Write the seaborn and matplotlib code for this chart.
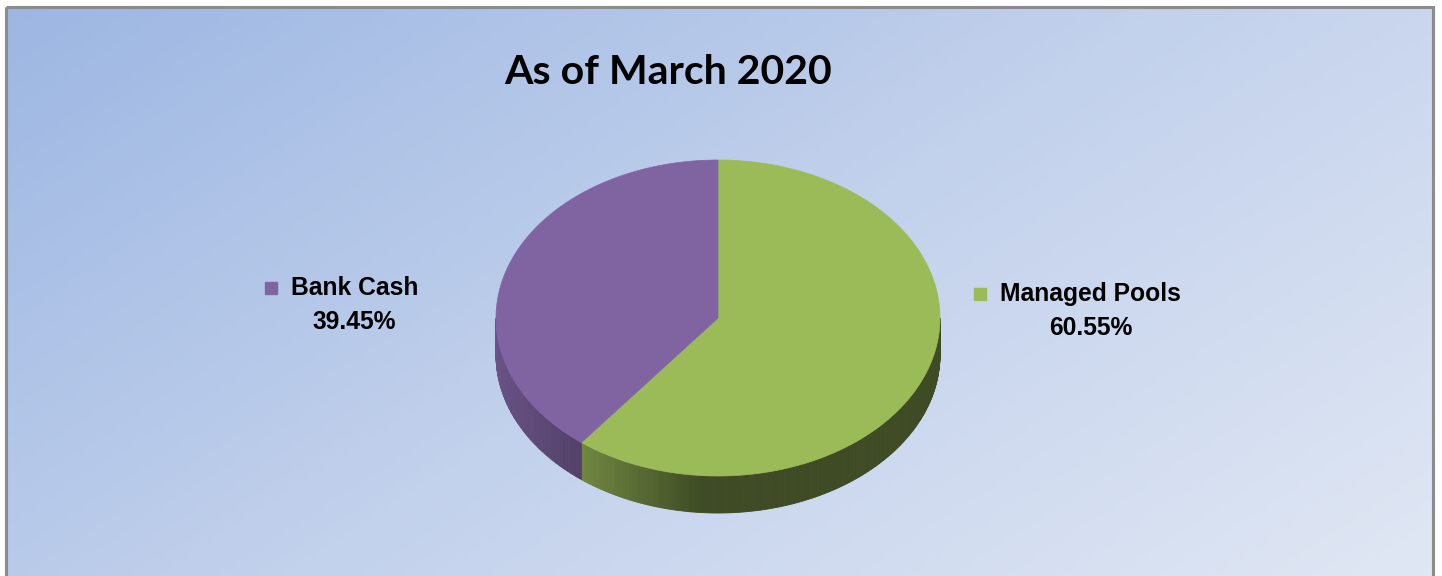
import numpy as np
import seaborn as sns
import matplotlib.pyplot as plt
from matplotlib.patches import Polygon, Rectangle
from matplotlib.colors import to_rgb, LinearSegmentedColormap

sns.set_theme(style="white")
plt.rcParams['font.family'] = ['Liberation Sans', 'DejaVu Sans']
plt.rcParams['text.color'] = 'black'

# data
title = "As of March 2020"
categories = ["Managed Pools", "Bank Cash"]
shares = [60.55, 39.45]
colors = ["#9bbb59", "#8064a2"]

W, H = 1442, 576
fig = plt.figure(figsize=(W / 100, H / 100), dpi=100)
ax = fig.add_axes([0, 0, 1, 1])
ax.set_xlim(0, W)
ax.set_ylim(H, 0)
ax.axis("off")

# background gradient (diagonal, top-left dark blue -> bottom-right pale)
gx, gy = np.meshgrid(np.linspace(0, 1, 300), np.linspace(0, 1, 120))
t = np.clip(0.62 * gx + 0.38 * gy, 0, 1)
bg = LinearSegmentedColormap.from_list("bg", ["#9db7e3", "#c2d1ec", "#e0e7f4"])
ax.imshow(bg(t), extent=[7, 1433, H, 7], aspect="auto", zorder=0)
ax.add_patch(Rectangle((6, 6.5), 1427, 600, fill=False, edgecolor="#8c8c8c", lw=2.2, zorder=1))

# pie geometry
cx, cy, rx, ry, depth = 718, 318, 222, 158, 37


def pt(a, dy=0):
    r = np.radians(a)
    return cx + rx * np.sin(r), cy - ry * np.cos(r) + dy


bounds = np.concatenate([[0], np.cumsum(shares) / sum(shares) * 360])


def side_color(base, x, x_light, x_dark, hi, lo):
    c = np.array(to_rgb(base))
    f = np.clip((x - x_light) / (x_dark - x_light), 0, 1)
    return c * (hi - (hi - lo) * f)


# side walls (front half, 90..270 degrees)
for i, base in enumerate(colors):
    a0, a1 = max(bounds[i], 90), min(bounds[i + 1], 270)
    if a1 <= a0:
        continue
    steps = np.linspace(a0, a1, int((a1 - a0) * 2) + 2)
    for s0, s1 in zip(steps[:-1], steps[1:]):
        p0, p1 = pt(s0), pt(s1)
        xm = (p0[0] + p1[0]) / 2
        if i == 0:
            xb = pt(bounds[1])[0]
            col = side_color(base, xm, xb, xb + 120, 0.72, 0.40)
        else:
            xb = pt(270)[0]
            col = side_color(base, xm, xb, xb + 85, 0.82, 0.64)
        poly = [p0, p1, pt(s1, depth), pt(s0, depth)]
        ax.add_patch(Polygon(poly, closed=True, facecolor=col, edgecolor=col, lw=0.6, zorder=2))

# top face wedges
for i, base in enumerate(colors):
    angs = np.linspace(bounds[i], bounds[i + 1], 200)
    pts = [(cx, cy)] + [pt(a) for a in angs]
    ax.add_patch(Polygon(pts, closed=True, facecolor=base, edgecolor=base, lw=0.5, zorder=3))

# title
ax.text(668, 72, title, ha="center", va="center", fontsize=29.5, fontweight="bold",
        family=["Lato", "DejaVu Sans"], color="black", zorder=5)

# labels
label_pos = [(1000, 294), (291, 288)]
for (lx, ly), name, v, c in zip(label_pos, categories, shares, colors):
    ax.plot(lx - 20, ly, marker="s", markersize=9, color=c, zorder=5)
    txt = ax.text(lx, ly, name, ha="left", va="center", fontsize=17.7, fontweight="bold",
                  color="black", zorder=5)
    fig.canvas.draw()
    bb = txt.get_window_extent().transformed(ax.transData.inverted())
    ax.text((bb.x0 + bb.x1) / 2, ly + 34, f"{v:.2f}%", ha="center", va="center",
            fontsize=17.7, fontweight="bold", color="black", zorder=5)

fig.savefig("out.png", dpi=100, facecolor="white")
